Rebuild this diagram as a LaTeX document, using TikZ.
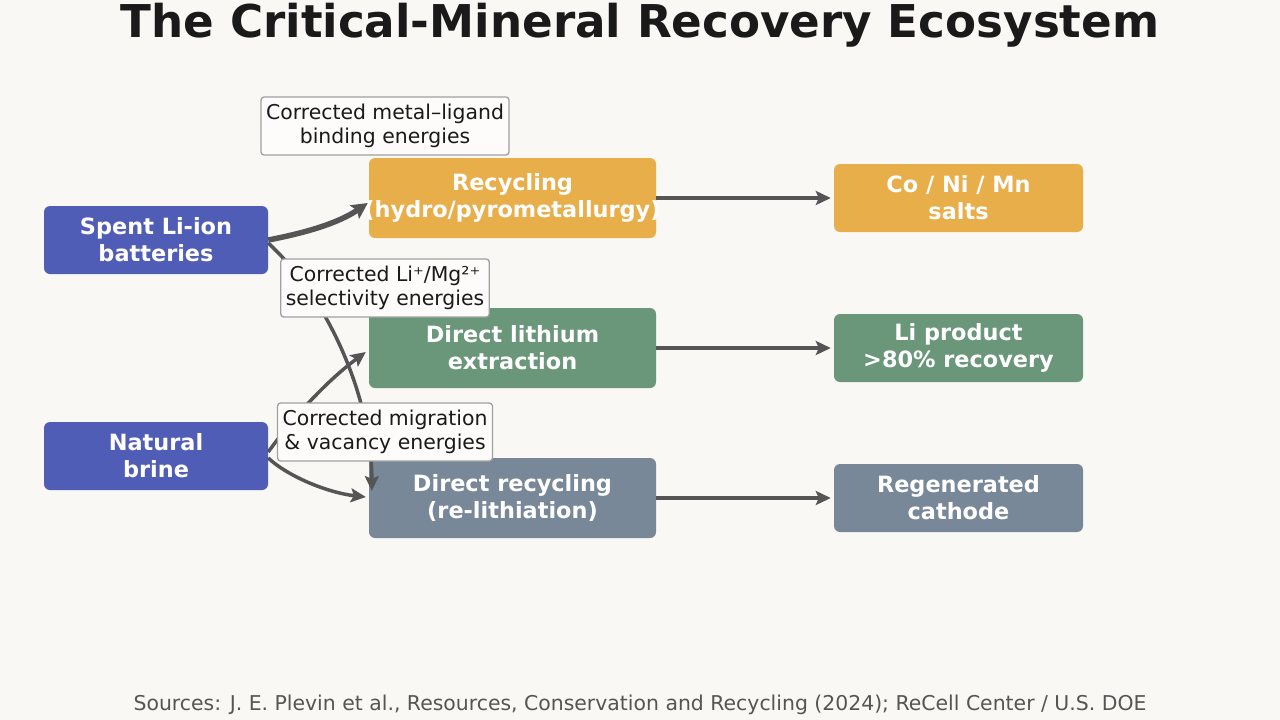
\documentclass[tikz,border=0pt]{standalone}
\usepackage{fontspec}
\setmainfont{DejaVu Sans}
\usetikzlibrary{arrows.meta,calc}
\definecolor{bg}{HTML}{F9F8F5}
\definecolor{cblue}{HTML}{505DB6}
\definecolor{corange}{HTML}{E8AE4A}
\definecolor{cgreen}{HTML}{6A967A}
\definecolor{cslate}{HTML}{788899}
\definecolor{edgec}{HTML}{555555}
\definecolor{labborder}{HTML}{A0A0A0}
\definecolor{titlec}{HTML}{1A1A1A}
\definecolor{footc}{HTML}{555555}
\tikzset{
  mainbox/.style={rectangle, rounded corners=6pt, draw=none, text=white, align=center, inner sep=0pt,
    font=\fontsize{22.4}{27}\selectfont\bfseries},
  srcbox/.style={mainbox, fill=cblue, minimum width=224pt, minimum height=68pt},
  procbox/.style={mainbox, minimum width=287pt, minimum height=80pt},
  outbox/.style={mainbox, minimum width=249pt, minimum height=68pt},
  labbox/.style={rectangle, rounded corners=3pt, draw=labborder, line width=1.3pt, fill=white!60!bg,
    align=center, inner xsep=5pt, inner ysep=0pt, minimum height=58pt, text=titlec,
    font=\fontsize{20.4}{24}\selectfont},
  conn/.style={draw=edgec, line width=3.5pt, -{Stealth[length=15pt,width=14pt,inset=3pt]}},
  thickconn/.style={draw=edgec, line width=5.5pt, -{Stealth[length=16pt,width=16pt,inset=3pt]}},
}
\begin{document}
\begin{tikzpicture}[x=1pt,y=-1pt]
\fill[bg] (0,0) rectangle (1280,720);
\useasboundingbox (0,0) rectangle (1280,720);

\node[font=\fontsize{45.2}{50}\selectfont\bfseries, text=titlec] (title) at (640,25) {The Critical-Mineral Recovery Ecosystem};

% sources
\node[srcbox] (spent) at (156,240) {Spent Li-ion\\batteries};
\node[srcbox] (brine) at (156,456) {Natural\\brine};

% processes
\node[procbox, fill=corange] (rec) at (512.5,198) {Recycling\\\makebox[250pt][c]{(hydro/pyrometallurgy)}};
\node[procbox, fill=cgreen] (dle) at (512.5,348) {Direct lithium\\extraction};
\node[procbox, fill=cslate] (dr) at (512.5,498) {Direct recycling\\(re-lithiation)};

% outputs
\node[outbox, fill=corange] (salts) at (958.5,198) {Co / Ni / Mn\\salts};
\node[outbox, fill=cgreen] (liprod) at (958.5,348) {Li product\\>80\% recovery};
\node[outbox, fill=cslate] (cath) at (958.5,498) {Regenerated\\cathode};

% connectors
\draw[thickconn] (spent.east) .. controls (310,232) and (340,222) .. ($(rec.west)+(-1,5)$);
\draw[conn] ($(spent.east)+(0,3)$) .. controls (330,300) and (372,400) .. ($(dr.west)+(3,-7)$);
\draw[conn] ($(brine.east)+(0,-4)$) .. controls (295,415) and (328,380) .. ($(dle.west)+(-3,4)$);
\draw[conn] ($(brine.east)+(0,2)$) .. controls (290,478) and (330,493) .. ($(dr.west)+(-3,-1)$);

\draw[conn, shorten >=3pt] (rec.east) -- (salts.west);
\draw[conn, shorten >=3pt] (dle.east) -- (liprod.west);
\draw[conn, shorten >=3pt] (dr.east) -- (cath.west);

% labels
\node[labbox] (lab1) at (385,126) {Corrected metal–ligand\\binding energies};
\node[labbox] (lab2) at (385,288) {Corrected Li⁺/Mg²⁺\\selectivity energies};
\node[labbox] (lab3) at (385,432) {Corrected migration\\\& vacancy energies};

\node[font=\fontsize{20.4}{22}\selectfont, text=footc] (foot) at (640,705) {Sources: J. E. Plevin et al., Resources, Conservation and Recycling (2024); ReCell Center / U.S. DOE};
\end{tikzpicture}
\end{document}
